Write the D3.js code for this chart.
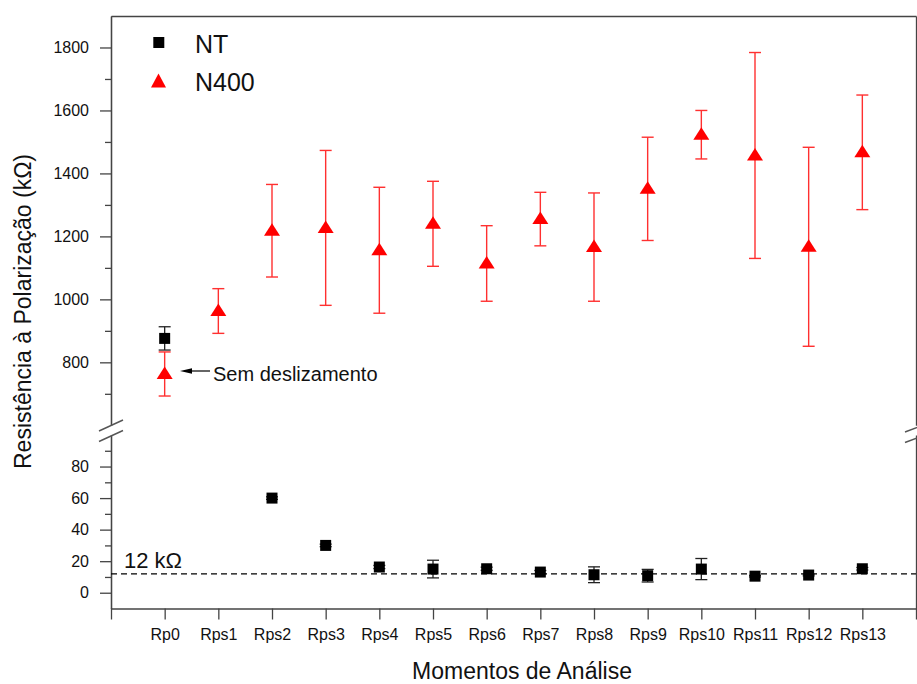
<!DOCTYPE html>
<html>
<head>
<meta charset="utf-8">
<script src="https://cdn.jsdelivr.net/npm/d3@7"></script>
<style>
  html, body { margin: 0; padding: 0; background: #fff; }
  svg { display: block; font-family: "Liberation Sans", Arial, sans-serif; }
</style>
</head>
<body>
<svg id="chart" width="917" height="684"></svg>
<script>
// Analysis moments (x categories)
const categories = ["Rp0", "Rps1", "Rps2", "Rps3", "Rps4", "Rps5", "Rps6",
  "Rps7", "Rps8", "Rps9", "Rps10", "Rps11", "Rps12", "Rps13"];

// Polarization resistance (kΩ), NT series (no value at Rps1)
const ntValues = [876, null, 60, 30, 16.3, 15, 15.2, 13.1, 11.4, 10.8, 15, 10.5, 11.2, 15.2];
const ntErrors = [37, null, 0.8, 0.8, 1, 5.6, 1, 1, 5, 4, 6.7, 0.5, 0.5, 0.8];

// Polarization resistance (kΩ), N400 series
const n400Values = [763, 963, 1218, 1227, 1156, 1240, 1114, 1255, 1166, 1351, 1523, 1457, 1167, 1467];
const n400Errors = [70, 71, 147, 246, 200, 135, 120, 85, 172, 164, 77, 327, 316, 182];

// Axis ticks for the two y segments
const topMajorTicks = [800, 1000, 1200, 1400, 1600, 1800];
const topMinorTicks = [700, 900, 1100, 1300, 1500, 1700];
const bottomMajorTicks = [0, 20, 40, 60, 80];
const bottomMinorTicks = [10, 30, 50, 70, 90];

const thresholdValue = 12;
const thresholdLabel = "12 kΩ";
const annotationText = "Sem deslizamento";
const xTitle = "Momentos de Análise";
const yTitle = "Resistência à Polarização (kΩ)";
const seriesNames = ["NT", "N400"];

const svg = d3.select("#chart");
const plotLeft = 111, plotRight = 916, plotTop = 16, plotBottom = 608.5;
const axisColor = "#444";
const red = "#ff0000";
const intFormat = d3.format("d");

// x: one empty step on each side of the categories
const x = d3.scaleLinear().domain([-1, categories.length]).range([plotLeft, plotRight]);
// broken y axis: upper segment and lower segment
const yTop = d3.scaleLinear().domain([600, 1900]).range([425.3, plotTop]);
const yBot = d3.scaleLinear().domain([-10, 100]).range([plotBottom, 435]);
const yOf = v => (v >= 600 ? yTop(v) : yBot(v));

function styleAxis(g) {
  g.selectAll("path.domain").attr("stroke", axisColor).attr("stroke-width", 1.3);
  g.selectAll(".tick line").attr("stroke", axisColor).attr("stroke-width", 1.3);
  g.selectAll(".tick text").attr("fill", "#111").style("font-size", "16px")
    .style("font-family", "'Liberation Sans', Arial, sans-serif");
}

// Left axis, upper segment
const gTopAxis = svg.append("g").attr("transform", `translate(${plotLeft},0)`)
  .call(d3.axisLeft(yTop).tickValues(topMajorTicks).tickFormat(intFormat)
    .tickSize(11).tickPadding(11).tickSizeOuter(0));
styleAxis(gTopAxis);
const gTopMinor = svg.append("g").attr("transform", `translate(${plotLeft},0)`)
  .call(d3.axisLeft(yTop).tickValues(topMinorTicks).tickSize(6).tickFormat("").tickSizeOuter(0));
styleAxis(gTopMinor);

// Left axis, lower segment
const gBotAxis = svg.append("g").attr("transform", `translate(${plotLeft},0)`)
  .call(d3.axisLeft(yBot).tickValues(bottomMajorTicks).tickFormat(intFormat)
    .tickSize(11).tickPadding(11).tickSizeOuter(0));
styleAxis(gBotAxis);
const gBotMinor = svg.append("g").attr("transform", `translate(${plotLeft},0)`)
  .call(d3.axisLeft(yBot).tickValues(bottomMinorTicks).tickSize(6).tickFormat("").tickSizeOuter(0));
styleAxis(gBotMinor);

// Right frame, both segments
[yTop, yBot].forEach(s => {
  const g = svg.append("g").attr("transform", `translate(${plotRight},0)`)
    .call(d3.axisRight(s).tickValues([]).tickSizeOuter(0));
  styleAxis(g);
});

// Top frame
const gTopFrame = svg.append("g").attr("transform", `translate(0,${plotTop})`)
  .call(d3.axisTop(x).tickValues([]).tickSizeOuter(0));
styleAxis(gTopFrame);

// Bottom x axis
const gX = svg.append("g").attr("transform", `translate(0,${plotBottom})`)
  .call(d3.axisBottom(x).tickValues(d3.range(-1, categories.length + 1))
    .tickFormat(i => categories[i] || "").tickSize(11).tickPadding(9).tickSizeOuter(0));
styleAxis(gX);

// Break marks on both vertical axes
[0, 10.5].forEach(off => {
  svg.append("line")
    .attr("x1", plotLeft - 12).attr("y1", 431 + off)
    .attr("x2", plotLeft + 12).attr("y2", 420 + off)
    .attr("stroke", "#555").attr("stroke-width", 1.4);
  svg.append("line")
    .attr("x1", plotRight - 11).attr("y1", 432 + off)
    .attr("x2", plotRight + 2).attr("y2", 427 + off)
    .attr("stroke", "#555").attr("stroke-width", 1.4);
});

// Threshold line at 12 kΩ
svg.append("line")
  .attr("x1", plotLeft).attr("x2", plotRight)
  .attr("y1", yBot(thresholdValue)).attr("y2", yBot(thresholdValue))
  .attr("stroke", "#000").attr("stroke-width", 1.2).attr("stroke-dasharray", "6,4");
svg.append("text").attr("x", 124).attr("y", 568.3)
  .style("font-size", "22px").attr("fill", "#111").text(thresholdLabel);

// Error bars
function errorBars(values, errors, color, width) {
  const data = values.map((v, i) => ({ i, v, e: errors[i] })).filter(d => d.v != null);
  const g = svg.append("g").attr("stroke", color).attr("stroke-width", width);
  data.forEach(d => {
    const cx = x(d.i);
    const y1 = yOf(d.v + d.e), y2 = yOf(d.v - d.e);
    g.append("line").attr("x1", cx).attr("x2", cx).attr("y1", y1).attr("y2", y2);
    g.append("line").attr("x1", cx - 6).attr("x2", cx + 6).attr("y1", y1).attr("y2", y1);
    g.append("line").attr("x1", cx - 6).attr("x2", cx + 6).attr("y1", y2).attr("y2", y2);
  });
}
errorBars(ntValues, ntErrors, "#222", 1.3);
errorBars(n400Values, n400Errors, "#ff3030", 1.4);

const squarePath = "M-5.5,-5.5H5.5V5.5H-5.5Z";
const trianglePath = "M0,-7.5L8,5H-8Z";
const legendTrianglePath = "M0,-7L7.5,7H-7.5Z";

// NT markers
svg.append("g").selectAll("path")
  .data(ntValues.map((v, i) => ({ i, v })).filter(d => d.v != null))
  .join("path")
  .attr("d", squarePath)
  .attr("transform", d => `translate(${x(d.i)},${yOf(d.v)})`)
  .attr("fill", "#000");

// N400 markers
svg.append("g").selectAll("path")
  .data(n400Values.map((v, i) => ({ i, v })))
  .join("path")
  .attr("d", trianglePath)
  .attr("transform", d => `translate(${x(d.i)},${yOf(d.v)})`)
  .attr("fill", red);

// Legend
const legend = svg.append("g");
legend.append("path").attr("d", squarePath).attr("transform", "translate(158.8,42.5)").attr("fill", "#000");
legend.append("path").attr("d", legendTrianglePath).attr("transform", "translate(158.5,80.5)").attr("fill", red);
legend.append("text").attr("x", 195).attr("y", 53.3).style("font-size", "25px").attr("fill", "#111").text(seriesNames[0]);
legend.append("text").attr("x", 195).attr("y", 90.5).style("font-size", "25px").attr("fill", "#111").text(seriesNames[1]);

// Annotation arrow for the first N400 point
const ay = 371;
svg.append("line").attr("x1", 191).attr("x2", 210).attr("y1", ay).attr("y2", ay)
  .attr("stroke", "#000").attr("stroke-width", 1.2);
svg.append("path").attr("d", `M180,${ay}L192,${ay - 2.8}L192,${ay + 2.8}Z`).attr("fill", "#000");
svg.append("text").attr("x", 213).attr("y", 380.7)
  .style("font-size", "20px").attr("fill", "#111").text(annotationText);

// Axis titles
svg.append("text").attr("x", 522).attr("y", 679).attr("text-anchor", "middle")
  .style("font-size", "23px").attr("fill", "#111").text(xTitle);
svg.append("text").attr("transform", "translate(30.5,311.5) rotate(-90)").attr("text-anchor", "middle")
  .style("font-size", "23px").attr("fill", "#111").text(yTitle);
</script>
</body>
</html>
